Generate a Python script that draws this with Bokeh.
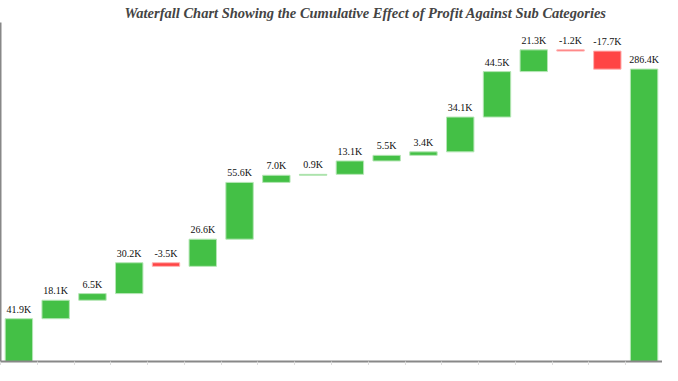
from bokeh.plotting import figure
from bokeh.models import Range1d, FixedTicker, ColumnDataSource, LinearAxis
from bokeh.embed import file_html
from bokeh.resources import INLINE
from bokeh.core.properties import value

categories = ["Accessories", "Appliances", "Art", "Binders", "Bookcases", "Chairs",
              "Copiers", "Envelopes", "Fasteners", "Furnishings", "Labels", "Machines",
              "Paper", "Phones", "Storage", "Supplies", "Tables", "Total"]
profit_k = [41.9, 18.1, 6.5, 30.2, -3.5, 26.6, 55.6, 7.0, 0.9, 13.1, 5.5, 3.4,
            34.1, 44.5, 21.3, -1.2, -17.7]
total_k = 286.4

GREEN = "#44c046"
GREEN_EDGE = "#b5e6b5"
RED = "#ff4545"
RED_EDGE = "#ffb3b3"

xs, bottoms, tops, colors, edges, labels, label_y = [], [], [], [], [], [], []
running = 0.0
for i, v in enumerate(profit_k):
    start = running
    running += v
    xs.append(i)
    bottoms.append(min(start, running))
    tops.append(max(start, running))
    colors.append(GREEN if v >= 0 else RED)
    edges.append(GREEN_EDGE if v >= 0 else RED_EDGE)
    labels.append(f"{v:.1f}K")
    label_y.append(max(start, running))
xs.append(len(profit_k))
bottoms.append(0)
tops.append(total_k)
colors.append(GREEN)
edges.append(GREEN_EDGE)
labels.append(f"{total_k:.1f}K")
label_y.append(total_k)

src = ColumnDataSource(dict(x=xs, bottom=bottoms, top=tops, color=colors, edge=edges,
                            label=labels, ly=label_y, cat=categories))

p = figure(width=662, height=365, output_backend="svg", toolbar_location=None,
           x_range=Range1d(-0.5, len(categories) - 0.5), y_range=Range1d(0, 332),
           x_axis_location=None, y_axis_location=None,
           title="Waterfall Chart Showing the Cumulative Effect of Profit Against Sub Categories")
p.min_border_left = 0
p.min_border_right = 0
p.min_border_top = 0
p.min_border_bottom = 0
p.outline_line_color = None
p.xgrid.visible = False
p.ygrid.visible = False
p.background_fill_color = "white"

p.title.text_font = "Liberation Serif"
p.title.text_font_style = "bold italic"
p.title.text_font_size = "14.5px"
p.title.align = "left"
p.title.offset = 124
p.title.standoff = 4

yax = LinearAxis(ticker=FixedTicker(ticks=[]))
yax.major_label_standoff = 0
yax.major_tick_out = 0
yax.minor_tick_out = 0
yax.axis_line_color = "#888888"
yax.axis_line_width = 2
p.add_layout(yax, "left")

xticks = [i + 0.5 for i in range(-1, len(categories))]
xax = LinearAxis(ticker=FixedTicker(ticks=xticks))
xax.major_label_overrides = {t: "" for t in xticks}
xax.major_label_text_font_size = "1px"
xax.major_label_standoff = 0
xax.major_tick_out = 4
xax.major_tick_in = 0
xax.major_tick_line_color = "#dddddd"
xax.minor_tick_out = 0
xax.axis_line_color = "#888888"
xax.axis_line_width = 2
p.add_layout(xax, "below")

p.vbar(x="x", bottom="bottom", top="top", width=0.745, fill_color="color",
       line_color="edge", line_width=1, source=src)
p.text(x="x", y="ly", text="label", source=src, text_align="center",
       text_baseline="bottom", y_offset=-4, text_font=value("Liberation Serif"),
       text_font_size="10px", text_color="#111111")

open("out.html", "w").write(file_html(p, INLINE))
